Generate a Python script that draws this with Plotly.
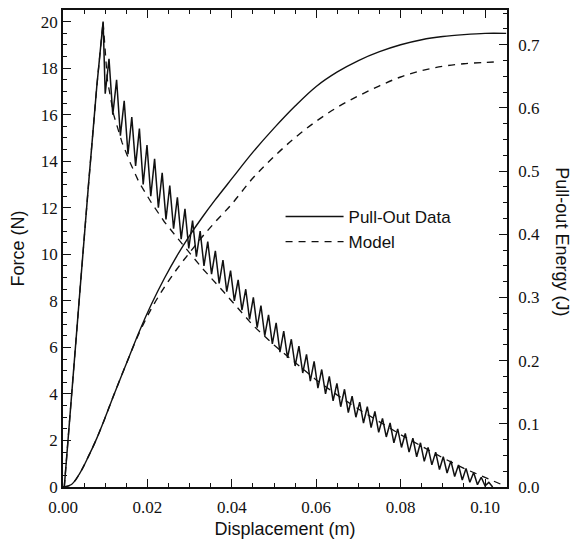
import plotly.graph_objects as go

# ---- measured pull-out force (N) vs displacement (m): loading ramp + stick-slip oscillation ----
force_x = [
    0.0003, 0.0020, 0.0040, 0.0060, 0.0080, 0.0095,
    0.0100, 0.0109, 0.0118, 0.0127, 0.0136, 0.0145, 0.0154, 0.0163, 0.0172, 0.0181,
    0.0190, 0.0199, 0.0208, 0.0217, 0.0226, 0.0235, 0.0244, 0.0253, 0.0262, 0.0271,
    0.0280, 0.0289, 0.0298, 0.0307, 0.0316, 0.0325, 0.0334, 0.0343, 0.0352, 0.0361,
    0.0370, 0.0379, 0.0388, 0.0397, 0.0406, 0.0415, 0.0424, 0.0433, 0.0442, 0.0451,
    0.0460, 0.0469, 0.0478, 0.0487, 0.0496, 0.0505, 0.0514, 0.0523, 0.0532, 0.0541,
    0.0550, 0.0559, 0.0568, 0.0577, 0.0586, 0.0595, 0.0604, 0.0613, 0.0622, 0.0631,
    0.0640, 0.0649, 0.0658, 0.0667, 0.0676, 0.0685, 0.0694, 0.0703, 0.0712, 0.0721,
    0.0730, 0.0739, 0.0748, 0.0757, 0.0766, 0.0775, 0.0784, 0.0793, 0.0802, 0.0811,
    0.0820, 0.0829, 0.0838, 0.0847, 0.0856, 0.0865, 0.0874, 0.0883, 0.0892, 0.0901,
    0.0910, 0.0919, 0.0928, 0.0937, 0.0946, 0.0955, 0.0964, 0.0973, 0.0982, 0.0991,
    0.1000, 0.1009, 0.1018,
]
force_data = [
    0.0, 4.0, 8.4, 12.9, 17.2, 20.0,
    16.9, 18.4, 16.0, 17.5, 15.1, 16.6, 14.3, 15.9, 13.8, 15.4,
    13.0, 14.7, 12.5, 14.1, 12.0, 13.5, 11.5, 12.95, 11.1, 12.45,
    10.65, 11.95, 10.25, 11.45, 9.9, 11.0, 9.5, 10.55, 9.15, 10.15,
    8.75, 9.75, 8.4, 9.3, 8.0, 8.9, 7.6, 8.5, 7.2, 8.15,
    6.85, 7.8, 6.5, 7.4, 6.15, 7.05, 5.8, 6.7, 5.55, 6.35,
    5.2, 6.05, 4.9, 5.7, 4.55, 5.4, 4.25, 5.05, 4.0, 4.75,
    3.7, 4.45, 3.45, 4.2, 3.2, 3.9, 3.0, 3.65, 2.75, 3.45,
    2.55, 3.25, 2.35, 2.95, 2.15, 2.75, 1.9, 2.5, 1.7, 2.3,
    1.5, 2.1, 1.3, 1.9, 1.1, 1.7, 0.95, 1.5, 0.75, 1.3,
    0.6, 1.12, 0.45, 0.95, 0.3, 0.8, 0.2, 0.62, 0.1, 0.42,
    0.05, 0.2, 0.0,
]

# ---- model force (N): shares the elastic ramp, then a smooth debonding decay ----
model_x = [0.0003, 0.0020, 0.0040, 0.0060, 0.0080, 0.0095,
           0.0105, 0.0120, 0.0140, 0.0160, 0.0180, 0.0210, 0.0240, 0.0280,
           0.0330, 0.0380, 0.0450, 0.0500, 0.0550, 0.0600, 0.0650, 0.0700,
           0.0750, 0.0800, 0.0850, 0.0900, 0.0950, 0.1000, 0.1040]
model_force = [0.0, 4.0, 8.4, 12.9, 17.2, 20.0,
               17.5, 16.0, 14.8, 13.9, 13.1, 12.2, 11.4, 10.5,
               9.4, 8.4, 6.95, 6.1, 5.35, 4.6, 3.95, 3.35,
               2.8, 2.25, 1.75, 1.25, 0.8, 0.4, 0.1]

# ---- cumulative pull-out energy (J) ----
energy_x = [0.0, 0.002, 0.004, 0.006, 0.008, 0.010, 0.012, 0.015, 0.018, 0.021,
            0.024, 0.027, 0.030, 0.033, 0.036, 0.040, 0.045, 0.050, 0.055,
            0.060, 0.065, 0.070, 0.075, 0.080, 0.085, 0.090, 0.095, 0.100, 0.105]
energy_data = [0.0, 0.004, 0.022, 0.048, 0.077, 0.110, 0.145, 0.195, 0.245, 0.290,
               0.330, 0.366, 0.398, 0.427, 0.454, 0.488, 0.530, 0.568, 0.603,
               0.634, 0.657, 0.675, 0.689, 0.700, 0.708, 0.713, 0.716, 0.718, 0.718]

model_energy_x = [0.0, 0.002, 0.004, 0.006, 0.008, 0.010, 0.012, 0.015, 0.018, 0.021,
                  0.024, 0.027, 0.030, 0.033, 0.036, 0.040, 0.045, 0.050, 0.055,
                  0.060, 0.065, 0.070, 0.075, 0.080, 0.085, 0.090, 0.095, 0.100, 0.103]
model_energy = [0.0, 0.004, 0.022, 0.048, 0.077, 0.110, 0.145, 0.195, 0.243, 0.283,
                0.316, 0.345, 0.371, 0.396, 0.419, 0.448, 0.489, 0.523, 0.553,
                0.579, 0.601, 0.619, 0.635, 0.649, 0.659, 0.666, 0.670, 0.672, 0.673]

x_ticks = [0.00, 0.02, 0.04, 0.06, 0.08, 0.10]
x_tick_text = ["0.00", "0.02", "0.04", "0.06", "0.08", "0.10"]
force_ticks = [0, 2, 4, 6, 8, 10, 12, 14, 16, 18, 20]
energy_ticks = [0.0, 0.1, 0.2, 0.3, 0.4, 0.5, 0.6, 0.7]
energy_tick_text = ["0.0", "0.1", "0.2", "0.3", "0.4", "0.5", "0.6", "0.7"]

INK = "#111111"
SERIF = "Liberation Serif, Times New Roman, serif"
SANS = "Liberation Sans, Arial, sans-serif"
DASH = "7px,6px"

fig = go.Figure()

fig.add_trace(go.Scatter(x=force_x, y=force_data, mode="lines", name="Pull-Out Data",
                         line=dict(color=INK, width=1.5), legendrank=1))
fig.add_trace(go.Scatter(x=model_x, y=model_force, mode="lines", name="Model",
                         line=dict(color=INK, width=1.3, dash=DASH),
                         legendrank=2))
fig.add_trace(go.Scatter(x=energy_x, y=energy_data, mode="lines", yaxis="y2",
                         line=dict(color=INK, width=1.4, shape="spline"),
                         showlegend=False))
fig.add_trace(go.Scatter(x=model_energy_x, y=model_energy, mode="lines", yaxis="y2",
                         line=dict(color=INK, width=1.4, dash=DASH, shape="spline"),
                         showlegend=False))

axis_common = dict(
    showgrid=False, zeroline=False, showline=True, linecolor=INK, linewidth=1.5,
    ticks="inside", ticklen=8, tickwidth=1.2, tickcolor=INK,
    tickfont=dict(family=SERIF, size=17, color=INK),
)

fig.update_layout(
    width=580, height=551,
    margin=dict(l=63, r=73, t=8, b=64),
    paper_bgcolor="white", plot_bgcolor="white",
    showlegend=True,
    legend=dict(x=0.49, y=0.604, xanchor="left", yanchor="top",
                bgcolor="rgba(0,0,0,0)", itemwidth=58,
                font=dict(family=SANS, size=17, color=INK),
                tracegroupgap=0),
    xaxis=dict(
        **axis_common, range=[0, 0.1052], tickvals=x_ticks, ticktext=x_tick_text,
        mirror="ticks", ticklabelstandoff=4,
        minor=dict(dtick=0.005, ticks="inside", ticklen=4, tickcolor=INK, tickwidth=1),
        title=dict(text="Displacement (m)", font=dict(family=SANS, size=18, color=INK),
                   standoff=6),
    ),
    yaxis=dict(
        **axis_common, range=[0, 20.5], tickvals=force_ticks,
        minor=dict(dtick=0.5, ticks="inside", ticklen=4, tickcolor=INK, tickwidth=1),
        title=dict(text="Force (N)", font=dict(family=SANS, size=18, color=INK),
                   standoff=12),
    ),
    yaxis2=dict(
        **axis_common, range=[0, 0.755], tickvals=energy_ticks, ticktext=energy_tick_text,
        overlaying="y", side="right", ticklabelstandoff=6,
        minor=dict(dtick=0.025, ticks="inside", ticklen=4, tickcolor=INK, tickwidth=1),
    ),
    annotations=[dict(
        text="Pull-out Energy (J)", textangle=90, showarrow=False,
        xref="paper", yref="paper", x=1.0, xshift=55, y=0.515,
        xanchor="center", yanchor="middle",
        font=dict(family=SANS, size=18, color=INK),
    )],
)

fig.write_html("out.html")
